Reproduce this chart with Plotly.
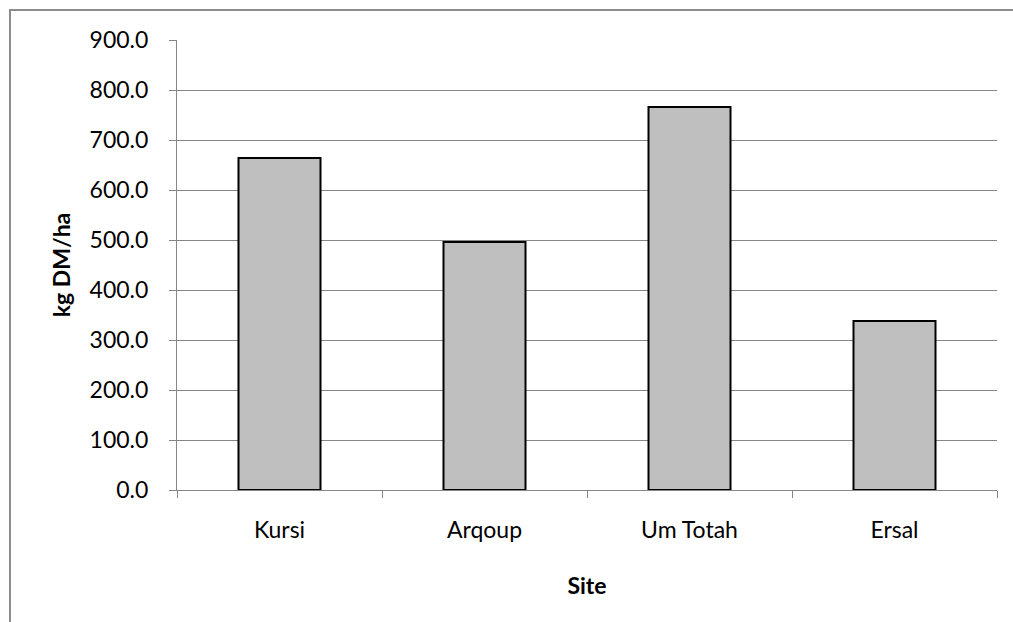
import plotly.graph_objects as go

# Dry-matter yield by site
sites = ["Kursi", "Arqoup", "Um Totah", "Ersal"]
yield_kg_dm_ha = [664, 496, 766, 338]
y_ticks = [0, 100, 200, 300, 400, 500, 600, 700, 800, 900]

W, H = 1013, 622
L, R, T, B = 177, 16, 40, 132
plot_w = W - L - R
plot_h = H - T - B

def px_x(px):
    return (px - L) / plot_w

def px_y(py):
    return (H - B - py) / plot_h

font_family = "Lato, 'Open Sans', sans-serif"

fig = go.Figure(
    go.Bar(
        x=sites,
        y=yield_kg_dm_ha,
        width=0.4,
        marker=dict(color="#BFBFBF", line=dict(color="#000000", width=2)),
    )
)

fig.update_layout(
    width=W,
    height=H,
    margin=dict(l=L, r=R, t=T, b=B),
    paper_bgcolor="white",
    plot_bgcolor="white",
    showlegend=False,
    font=dict(family=font_family, size=23, color="#000000"),
    xaxis=dict(
        title=dict(text="<b>Site</b>", font=dict(family=font_family, size=23, color="#000000"), standoff=36),
        showline=True,
        linecolor="#868686",
        linewidth=1,
        ticks="outside",
        tickson="boundaries",
        ticklen=7,
        tickcolor="#868686",
        showgrid=False,
        tickfont=dict(size=23),
        ticklabelstandoff=19,
    ),
    yaxis=dict(
        title=dict(text="<b>kg DM/ha</b>", font=dict(family=font_family, size=23, color="#000000"), standoff=12),
        range=[0, 900],
        tickvals=y_ticks,
        tickformat=".1f",
        showline=True,
        linecolor="#868686",
        linewidth=1,
        ticks="outside",
        ticklen=7,
        tickcolor="#868686",
        showgrid=True,
        gridcolor="#868686",
        gridwidth=1,
        tickfont=dict(size=23),
        ticklabelstandoff=16,
        zeroline=False,
    ),
)

# Chart-area border (top and left edges)
fig.add_shape(
    type="path",
    xref="paper",
    yref="paper",
    path=f"M {px_x(10)} {px_y(622)} L {px_x(10)} {px_y(10)} L {px_x(1013)} {px_y(10)}",
    line=dict(color="#8C8C8C", width=2),
)

fig.write_html("out.html")
